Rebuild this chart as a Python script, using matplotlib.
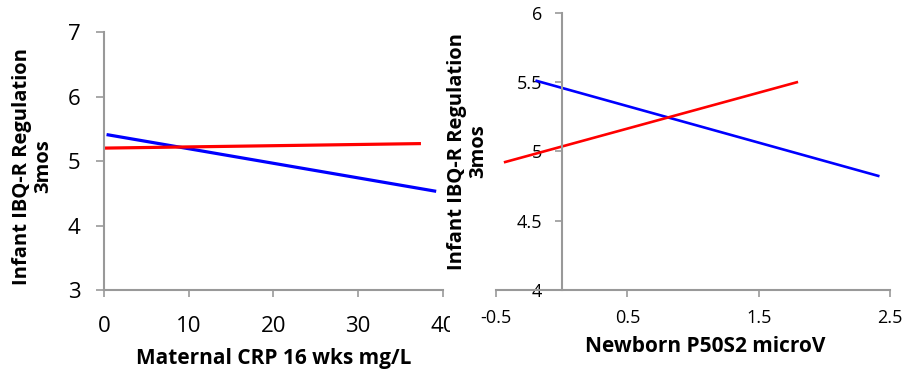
import matplotlib.pyplot as plt
from matplotlib.patches import Rectangle

plt.rcParams['font.family'] = ['Open Sans', 'DejaVu Sans']

# left panel: maternal CRP
crp_blue_x = [0.3, 39.2]
crp_blue_y = [5.41, 4.53]
crp_red_x = [0.0, 37.4]
crp_red_y = [5.20, 5.27]
crp_xticks = [0, 10, 20, 30, 40]
crp_yticks = [3, 4, 5, 6, 7]

# right panel: newborn P50S2
p50_blue_x = [-0.2, 2.42]
p50_blue_y = [5.51, 4.82]
p50_red_x = [-0.44, 1.80]
p50_red_y = [4.92, 5.50]
p50_xticks = [-0.5, 0.5, 1.5, 2.5]
p50_xlabels = ['-0.5', '0.5', '1.5', '2.5']
p50_yticks = [4, 4.5, 5, 5.5, 6]
p50_ylabels = ['4', '4.5', '5', '5.5', '6']

ylab = 'Infant IBQ-R Regulation\n3mos'
spine_col = '#999999'

fig = plt.figure(figsize=(9.02, 3.78), dpi=100)

ax1 = fig.add_axes([0.1153, 0.2328, 0.3758, 0.6825])
ax1.set_zorder(0)
ax1.plot(crp_blue_x, crp_blue_y, color='#0000ff', lw=2.3, solid_capstyle='butt')
ax1.plot(crp_red_x, crp_red_y, color='#ff0000', lw=2.3, solid_capstyle='butt')
ax1.set_xlim(0, 40)
ax1.set_ylim(3, 7)
ax1.set_xticks(crp_xticks)
ax1.set_yticks(crp_yticks)
ax1.tick_params(axis='x', labelsize=16, length=5, width=1.2, color=spine_col, pad=14)
ax1.tick_params(axis='y', labelsize=16, length=6, width=1.2, color=spine_col, pad=11)
ax1.set_xlabel('Maternal CRP 16 wks mg/L', fontsize=15, fontweight='bold')
ax1.xaxis.set_label_coords(0.5, -0.225)
ax1.set_ylabel(ylab, fontsize=14.5, fontweight='bold', linespacing=1.1)
ax1.yaxis.set_label_coords(-0.15, 0.48)
for s in ['top', 'right']:
    ax1.spines[s].set_visible(False)
for s in ['left', 'bottom']:
    ax1.spines[s].set_color(spine_col)
    ax1.spines[s].set_linewidth(1.5)

# white strip so the right panel covers the left one like the stitched original
fig.patches.append(Rectangle((0.4989, 0), 0.6, 1, transform=fig.transFigure,
                             facecolor='white', edgecolor='none', zorder=0.5))

ax2 = fig.add_axes([0.5499, 0.2328, 0.4368, 0.734])
ax2.set_zorder(1)
ax2.patch.set_visible(False)
ax2.plot(p50_blue_x, p50_blue_y, color='#0000ff', lw=1.9, solid_capstyle='butt')
ax2.plot(p50_red_x, p50_red_y, color='#ff0000', lw=1.9, solid_capstyle='butt')
ax2.set_xlim(-0.5, 2.5)
ax2.set_ylim(4, 6)
ax2.set_xticks(p50_xticks)
ax2.set_xticklabels(p50_xlabels)
ax2.set_yticks(p50_yticks)
ax2.set_yticklabels(p50_ylabels)
ax2.spines['left'].set_position(('data', 0))
ax2.tick_params(axis='x', labelsize=13, length=5, width=1.2, color=spine_col, pad=9)
ax2.tick_params(axis='y', labelsize=13, length=5, width=1.2, color=spine_col, pad=9)
ax2.set_xlabel('Newborn P50S2 microV', fontsize=15, fontweight='bold')
ax2.xaxis.set_label_coords(0.53, -0.165)
ax2.set_ylabel(ylab, fontsize=14.5, fontweight='bold', linespacing=1.1)
ax2.yaxis.set_label_coords(-0.02, 0.5)
for s in ['top', 'right']:
    ax2.spines[s].set_visible(False)
for s in ['left', 'bottom']:
    ax2.spines[s].set_color(spine_col)
    ax2.spines[s].set_linewidth(1.5)

fig.savefig('out.png', dpi=100)
